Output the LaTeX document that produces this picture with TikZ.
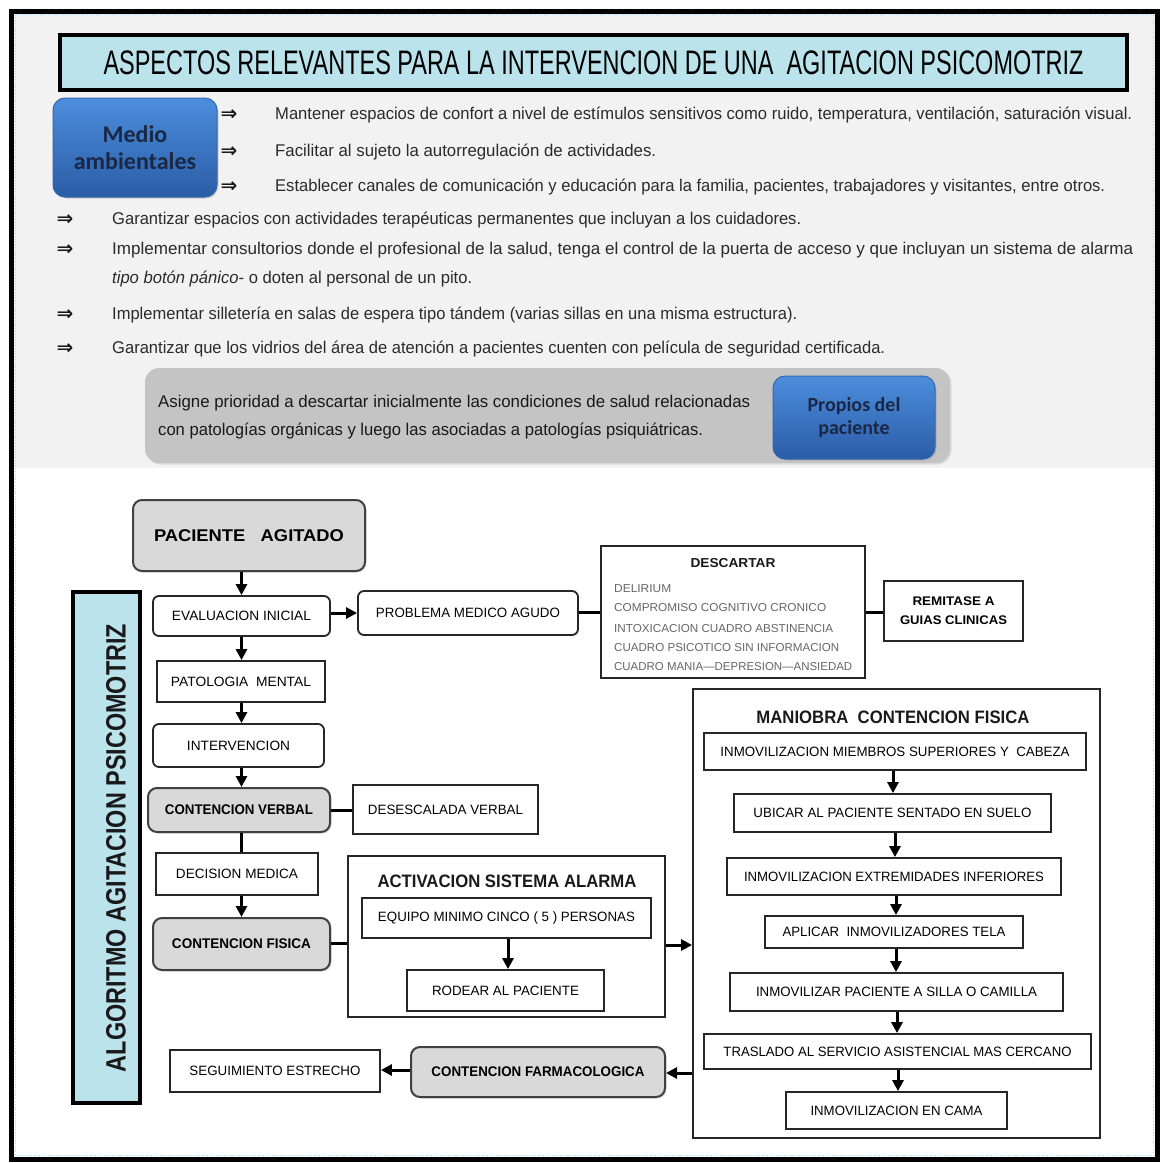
\documentclass[tikz,border=0pt]{standalone}
\usepackage{fontspec}
\usepackage{graphicx}
\setmainfont{Liberation Sans}
\newfontfamily\calfont{Carlito}
\newfontfamily\dejavu{DejaVu Sans}
\usetikzlibrary{arrows.meta,shadows}
\definecolor{panelbg}{HTML}{F2F2F2}
\definecolor{graybg}{HTML}{C4C4C4}
\definecolor{flowgray}{HTML}{D9D9D9}
\definecolor{cyanbg}{HTML}{BBE3EC}
\definecolor{blueT}{HTML}{4C8EDD}
\definecolor{blueB}{HTML}{2B5CA6}
\definecolor{blueE}{HTML}{3566B0}
\definecolor{navy}{HTML}{1A2845}
\definecolor{bodytxt}{HTML}{2B2B2B}
\newcommand{\fw}[2]{\resizebox{#1pt}{\height}{#2}}
\tikzset{
  flow/.style={draw=black!85, line width=1.8pt, fill=white, inner sep=0pt, text=black,
    font=\fontsize{13.5}{16}\selectfont},
  rflow/.style={flow, rounded corners=6pt},
  gflow/.style={flow, rounded corners=9pt, fill=flowgray, draw=black!75, line width=2pt,
    font=\bfseries\fontsize{14}{16}\selectfont,
    drop shadow={opacity=0.25, shadow xshift=1.5pt, shadow yshift=-1.5pt}},
  arr/.style={line width=3pt, -{Triangle[length=11pt,width=11pt]}},
  lin/.style={line width=3pt},
  banner/.style={draw=black, line width=4pt, fill=cyanbg, inner sep=0pt},
  bluebox/.style={rounded corners=12pt, top color=blueT, bottom color=blueB, draw=blueE,
    line width=1pt, text=navy, align=center, inner sep=0pt,
    drop shadow={opacity=0.3, shadow xshift=1.5pt, shadow yshift=-1.5pt}},
  body/.style={anchor=west, inner sep=0pt, font=\fontsize{17}{20}\selectfont, text=bodytxt},
  sym/.style={inner sep=0pt, font=\dejavu\bfseries\fontsize{20}{20}\selectfont, text=black!90},
  txt/.style={inner sep=0pt, text=black!90},
  item/.style={anchor=west, inner sep=0pt, text=black!60, font=\fontsize{11.5}{12}\selectfont},
}
\begin{document}
\begin{tikzpicture}[x=1pt,y=-1pt]
\useasboundingbox (0,0) rectangle (1163,1163);
\fill[white] (0,0) rectangle (1163,1163);
\fill[panelbg] (12,12) rectangle (1156,468);
\draw[black, line width=5pt] (11,11) rectangle (1157,1159);
\draw[cyan!40, dotted, line width=0.8pt] (15.5,14.5) rectangle (1153.5,1155.5);

% ---------- top panel ----------
\node[banner, minimum width=1067pt, minimum height=55pt] (ti) at (593.5,62.5)
  {\fw{980}{\fontsize{34}{34}\selectfont ASPECTOS RELEVANTES PARA LA INTERVENCION DE UNA\ \ AGITACION PSICOMOTRIZ}};

\node[bluebox, minimum width=164pt, minimum height=99pt,
  font=\calfont\bfseries\fontsize{24}{27}\selectfont] (ma) at (135,147.5) {Medio\\ambientales};

\node[sym] (s1) at (229,115) {⇒};
\node[sym] (s2) at (229,152) {⇒};
\node[sym] (s3) at (229,187) {⇒};
\node[body] (t1) at (275,115) {\fw{857}{Mantener espacios de confort a nivel de estímulos sensitivos como ruido, temperatura, ventilación, saturación visual.}};
\node[body] (t2) at (275,152) {\fw{381}{Facilitar al sujeto la autorregulación de actividades.}};
\node[body] (t3) at (275,187) {\fw{830}{Establecer canales de comunicación y educación para la familia, pacientes, trabajadores y visitantes, entre otros.}};

\node[sym] (s4) at (65,220) {⇒};
\node[sym] (s5) at (65,250) {⇒};
\node[sym] (s6) at (65,315) {⇒};
\node[sym] (s7) at (65,349) {⇒};
\node[body] (t4) at (112,220) {\fw{689}{Garantizar espacios con actividades terapéuticas permanentes que incluyan a los cuidadores.}};
\node[body] (t5) at (112,250) {\fw{1021}{Implementar consultorios donde el profesional de la salud, tenga el control de la puerta de acceso y que incluyan un sistema de alarma}};
\node[body] (t6) at (112,279) {\fw{360}{\textit{tipo botón pánico}- o doten al personal de un pito.}};
\node[body] (t7) at (112,315) {\fw{685}{Implementar silletería en salas de espera tipo tándem (varias sillas en una misma estructura).}};
\node[body] (t8) at (112,349) {\fw{773}{Garantizar que los vidrios del área de atención a pacientes cuenten con película de seguridad certificada.}};

\node[fill=graybg, rounded corners=14pt, minimum width=805pt, minimum height=95pt, inner sep=0pt,
  drop shadow={opacity=0.2, shadow xshift=1.5pt, shadow yshift=-1.5pt}] (gb) at (547.5,415.5) {};
\node[body, text=black!90] (a1) at (158,403) {\fw{592}{Asigne prioridad a descartar inicialmente las condiciones de salud relacionadas}};
\node[body, text=black!90] (a2) at (158,431) {\fw{545}{con patologías orgánicas y luego las asociadas a patologías psiquiátricas.}};
\node[bluebox, minimum width=162pt, minimum height=83pt,
  font=\calfont\bfseries\fontsize{20}{23}\selectfont] (pp) at (854,417.5) {Propios del\\paciente};

% ---------- flowchart ----------
\node[banner, minimum width=67pt, minimum height=511pt] (al) at (106.5,847.5) {};
\node[txt, rotate=90, font=\bfseries\fontsize{28}{28}\selectfont] (alt) at (116,848)
  {\fw{448}{ALGORITMO AGITACION PSICOMOTRIZ}};

\node[gflow, minimum width=232pt, minimum height=71pt, font=\bfseries\fontsize{17}{18}\selectfont] (pa) at (249,535.5)
  {\fw{190}{PACIENTE\ \ \ AGITADO}};
\node[rflow, minimum width=177pt, minimum height=40pt] (ev) at (241.5,616) {\fw{139}{EVALUACION INICIAL}};
\node[rflow, minimum width=220pt, minimum height=44pt] (pm) at (468,613) {\fw{184}{PROBLEMA MEDICO AGUDO}};

\node[flow, minimum width=264pt, minimum height=132pt] (de) at (733,612) {};
\node[txt, font=\bfseries\fontsize{13}{13}\selectfont] (det) at (733,563) {\fw{85}{DESCARTAR}};
\node[item] (d1) at (614,589) {\fw{57}{DELIRIUM}};
\node[item] (d2) at (614,608) {\fw{212}{COMPROMISO COGNITIVO CRONICO}};
\node[item] (d3) at (614,629) {\fw{219}{INTOXICACION CUADRO ABSTINENCIA}};
\node[item] (d4) at (614,648) {\fw{225}{CUADRO PSICOTICO SIN INFORMACION}};
\node[item] (d5) at (614,667) {\fw{238}{CUADRO MANIA—DEPRESION—ANSIEDAD}};

\node[flow, minimum width=139pt, minimum height=60pt, align=center,
  font=\bfseries\fontsize{12.5}{14}\selectfont] (re) at (953.5,611)
  {\fw{82}{REMITASE A}\\[5pt]\fw{107}{GUIAS CLINICAS}};

\node[flow, minimum width=168pt, minimum height=41pt] (pt) at (241,681.5) {\fw{140}{PATOLOGIA\ \ MENTAL}};
\node[rflow, minimum width=171pt, minimum height=43pt] (in) at (238.5,745.5) {\fw{103}{INTERVENCION}};
\node[gflow, minimum width=182pt, minimum height=44pt] (cv) at (239,810) {\fw{148}{CONTENCION VERBAL}};
\node[flow, minimum width=185pt, minimum height=49pt] (dv) at (445.5,809.5) {\fw{155}{DESESCALADA VERBAL}};
\node[flow, minimum width=162pt, minimum height=42pt] (dm) at (237,874) {\fw{122}{DECISION MEDICA}};
\node[gflow, minimum width=177pt, minimum height=52pt] (cf) at (241.5,944) {\fw{139}{CONTENCION FISICA}};

\node[flow, minimum width=317pt, minimum height=161pt] (ac) at (506.5,936.5) {};
\node[txt, font=\bfseries\fontsize{18}{18}\selectfont] (act) at (507,881) {\fw{259}{ACTIVACION SISTEMA ALARMA}};
\node[flow, minimum width=289pt, minimum height=40pt] (eq) at (506.5,918) {\fw{257}{EQUIPO MINIMO CINCO ( 5 ) PERSONAS}};
\node[flow, minimum width=197pt, minimum height=41pt] (ro) at (505.5,990.5) {\fw{147}{RODEAR AL PACIENTE}};

\node[flow, minimum width=407pt, minimum height=449pt] (mf) at (896.5,913.5) {};
\node[txt, font=\bfseries\fontsize{18}{18}\selectfont] (mft) at (893,717) {\fw{273}{MANIOBRA\ \ CONTENCION FISICA}};
\node[flow, minimum width=382pt, minimum height=37pt] (m1) at (895,751.5) {\fw{349}{INMOVILIZACION MIEMBROS SUPERIORES Y\ \ CABEZA}};
\node[flow, minimum width=317pt, minimum height=38pt] (m2) at (892.5,813) {\fw{278}{UBICAR AL PACIENTE SENTADO EN SUELO}};
\node[flow, minimum width=334pt, minimum height=37pt] (m3) at (894,876.5) {\fw{300}{INMOVILIZACION EXTREMIDADES INFERIORES}};
\node[flow, minimum width=258pt, minimum height=32pt] (m4) at (894,932) {\fw{223}{APLICAR\ \ INMOVILIZADORES TELA}};
\node[flow, minimum width=333pt, minimum height=38pt] (m5) at (896.5,992) {\fw{281}{INMOVILIZAR PACIENTE A SILLA O CAMILLA}};
\node[flow, minimum width=387pt, minimum height=35pt] (m6) at (897.5,1051.5) {\fw{348}{TRASLADO AL SERVICIO ASISTENCIAL MAS CERCANO}};
\node[flow, minimum width=221pt, minimum height=37pt] (m7) at (896.5,1110.5) {\fw{172}{INMOVILIZACION EN CAMA}};

\node[gflow, minimum width=254pt, minimum height=50pt] (fa) at (538,1072) {\fw{213}{CONTENCION FARMACOLOGICA}};
\node[flow, minimum width=210pt, minimum height=42pt] (se) at (275,1071) {\fw{171}{SEGUIMIENTO ESTRECHO}};

% ---------- connectors ----------
\draw[arr] (ev.north |- pa.south) -- (ev.north);
\draw[arr] (ev.east |- 0,613) -- (pm.west |- 0,613);
\draw[lin] (pm.east |- 0,612) -- (de.west |- 0,612);
\draw[lin] (de.east |- 0,612) -- (re.west |- 0,612);
\draw[arr] (ev.south) -- (ev.south |- pt.north);
\draw[arr] (pt.south -| ev.south) -- (ev.south |- in.north);
\draw[arr] (in.south -| ev.south) -- (ev.south |- cv.north);
\draw[lin] (cv.east) -- (dv.west |- cv.east);
\draw[lin] (cv.south -| ev.south) -- (ev.south |- dm.north);
\draw[arr] (dm.south -| ev.south) -- (ev.south |- cf.north);
\draw[lin] (cf.east |- 0,943) -- (ac.west |- 0,943);
\draw[arr] (eq.south -| 508,0) -- (ro.north -| 508,0);
\draw[arr] (ac.east |- 0,945) -- (mf.west |- 0,945);
\draw[arr] (mf.west |- 0,1073) -- (fa.east |- 0,1073);
\draw[arr] (fa.west |- 0,1070) -- (se.east |- 0,1070);
\draw[arr] (m1.south -| 893,0) -- (m2.north -| 893,0);
\draw[arr] (m2.south -| 895,0) -- (m3.north -| 895,0);
\draw[arr] (m3.south -| 896,0) -- (m4.north -| 896,0);
\draw[arr] (m4.south -| 896,0) -- (m5.north -| 896,0);
\draw[arr] (m5.south -| 897,0) -- (m6.north -| 897,0);
\draw[arr] (m6.south -| 898,0) -- (m7.north -| 898,0);
\end{tikzpicture}
\end{document}
